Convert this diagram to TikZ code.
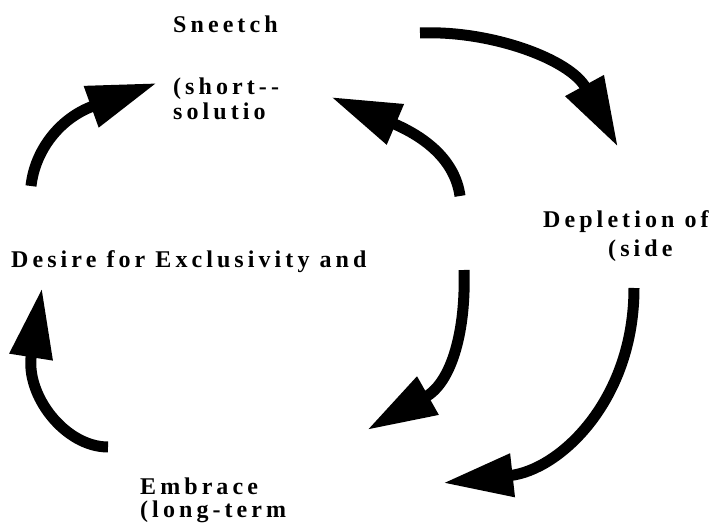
\documentclass[tikz,border=0pt]{standalone}
\usepackage{fontspec}
\setmainfont{Liberation Serif}
\newfontfamily\lblfont[LetterSpace=17]{Liberation Serif}
\usetikzlibrary{arrows.meta}
\begin{document}
\begin{tikzpicture}[x=1pt,y=-1pt,
  lbl/.style={anchor=base west, inner sep=0pt, font=\lblfont\bfseries\fontsize{24}{27}\selectfont},
  flow/.style={line width=11pt, line cap=butt, -{Triangle[length=70pt,width=41pt]}}]
\useasboundingbox (0,0) rectangle (721,529);
% labels
\node[lbl] (sneetch) at (173,33) {Sneetch};
\node[lbl] (short) at (173,95) {(short--};
\node[lbl] (solutio) at (173,120) {solutio};
\node[lbl] (desire) at (11,268) {Desire for Exclusivity and};
\node[lbl] (depletion) at (543,228) {Depletion of};
\node[lbl] (side) at (608,257) {(side};
\node[lbl] (embrace) at (140,495) {Embrace};
\node[lbl] (longterm) at (140,518) {(long-term};
% arrow end points
\coordinate (a1s) at (31,186);  \coordinate (a1t) at (157,83);
\coordinate (a2s) at (460,196); \coordinate (a2t) at (331,97);
\coordinate (a3s) at (420,33);  \coordinate (a3t) at (618,147);
\coordinate (a4s) at (634,288); \coordinate (a4t) at (443,483);
\coordinate (a5s) at (464,270); \coordinate (a5t) at (367,430);
\coordinate (a6s) at (108,447); \coordinate (a6t) at (42,288);
% arrows
\draw[flow] (a1s) .. controls (35,150) and (60,118) .. (a1t);
\draw[flow] (a2s) .. controls (455,160) and (425,137) .. (a2t);
\draw[flow] (a3s) .. controls (490,30) and (570,59) .. (a3t);
\draw[flow] (a4s) .. controls (634,400) and (560,470) .. (a4t);
\draw[flow] (a5s) .. controls (466,330) and (452,382) .. (a5t);
\draw[flow] (a6s) .. controls (65,447) and (25,395) .. (a6t);
\end{tikzpicture}
\end{document}
